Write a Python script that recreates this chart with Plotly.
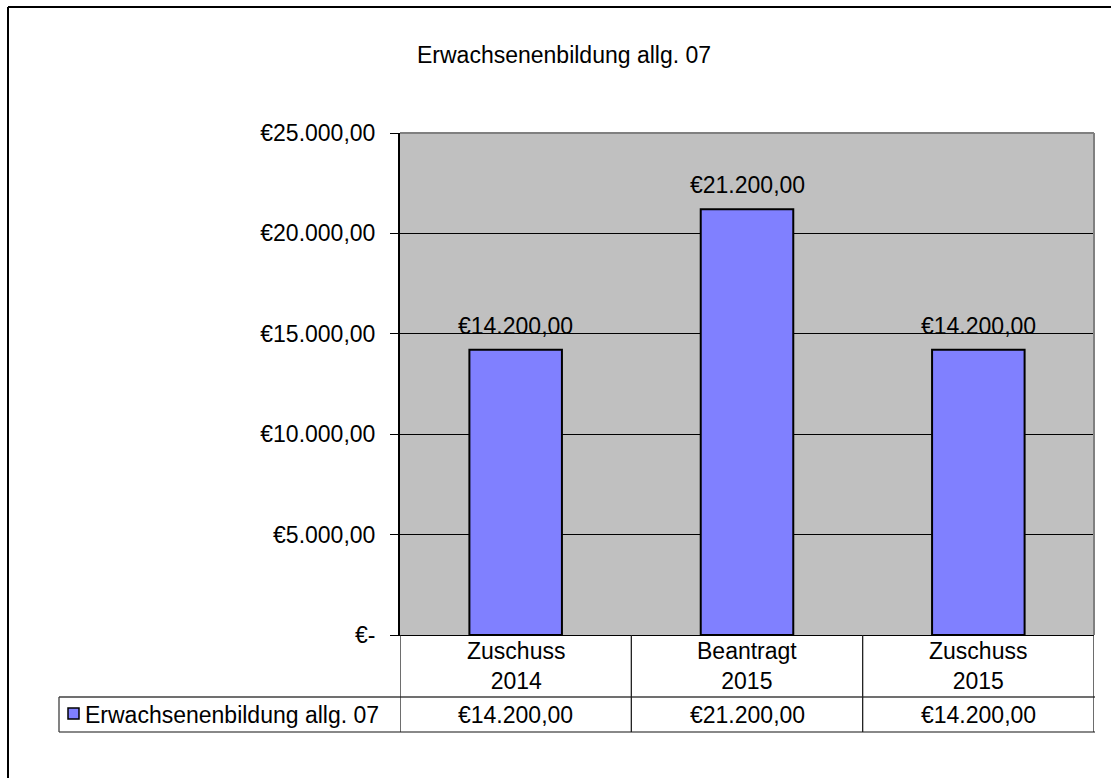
import plotly.graph_objects as go

# ---------------- data ----------------
title_text = "Erwachsenenbildung allg. 07"
series_name = "Erwachsenenbildung allg. 07"
categories = ["Zuschuss<br>2014", "Beantragt<br>2015", "Zuschuss<br>2015"]
values = [14200, 21200, 14200]
y_tick_values = [0, 5000, 10000, 15000, 20000, 25000]

# ---------------- helpers ----------------
W, H = 1111, 778
FONT = "Liberation Sans, Arial, sans-serif"
FS = 23


def eur(v):
    if v == 0:
        return "€-"
    s = f"{v:,.2f}"
    s = s.replace(",", "X").replace(".", ",").replace("X", ".")
    return "€" + s


def px(x):
    return x / W


def py(y):
    return 1 - y / H


PLOT_L, PLOT_R, PLOT_T, PLOT_B = 400, 1094, 133, 635
ROW1_B, ROW2_B = 697, 732
LEG_L = 59

x_idx = list(range(len(categories)))

fig = go.Figure()
fig.add_trace(go.Bar(
    x=x_idx, y=values, width=0.4, name=series_name,
    marker=dict(color="#8080FF", line=dict(color="#000000", width=2)),
    showlegend=False, hoverinfo="skip",
))

annotations = []
# title
annotations.append(dict(text=title_text, x=px(564), y=py(55), xref="paper", yref="paper",
                        showarrow=False, xanchor="center", yanchor="middle",
                        font=dict(family=FONT, size=FS, color="black")))
# bar value labels
for i, v in zip(x_idx, values):
    annotations.append(dict(text=eur(v), x=i, y=v, xref="x", yref="y", showarrow=False,
                            xanchor="center", yanchor="bottom", yshift=9,
                            font=dict(family=FONT, size=FS, color="black")))
# table: category headers and values
for i, (c, v) in enumerate(zip(categories, values)):
    annotations.append(dict(text=c, x=i, y=py((PLOT_B + ROW1_B) / 2), xref="x", yref="paper",
                            showarrow=False, xanchor="center", yanchor="middle",
                            font=dict(family=FONT, size=FS, color="black")))
    annotations.append(dict(text=eur(v), x=i, y=py((ROW1_B + ROW2_B) / 2), xref="x", yref="paper",
                            showarrow=False, xanchor="center", yanchor="middle",
                            font=dict(family=FONT, size=FS, color="black")))
# legend text in table
annotations.append(dict(text=series_name, x=px(83), y=py((ROW1_B + ROW2_B) / 2), xref="paper", yref="paper",
                        showarrow=False, xanchor="left", yanchor="middle",
                        font=dict(family=FONT, size=FS, color="black")))

shapes = []
# outer chart border (top & left visible)
shapes.append(dict(type="line", xref="paper", yref="paper", x0=px(8), x1=1, y0=py(7), y1=py(7),
                   line=dict(color="black", width=2)))
shapes.append(dict(type="line", xref="paper", yref="paper", x0=px(8), x1=px(8), y0=py(7), y1=0,
                   line=dict(color="black", width=2)))
# plot area top/right border (gray)
shapes.append(dict(type="line", xref="paper", yref="paper", x0=px(PLOT_L), x1=px(PLOT_R), y0=py(PLOT_T), y1=py(PLOT_T),
                   line=dict(color="#808080", width=2)))
shapes.append(dict(type="line", xref="paper", yref="paper", x0=px(PLOT_R), x1=px(PLOT_R), y0=py(PLOT_T), y1=py(PLOT_B),
                   line=dict(color="#808080", width=2)))
# table horizontal lines
for yy in (ROW1_B, ROW2_B):
    shapes.append(dict(type="line", xref="paper", yref="paper", x0=px(LEG_L), x1=px(PLOT_R + 1), y0=py(yy), y1=py(yy),
                       line=dict(color="#404040" if yy == ROW1_B else "#606060", width=1.3)))
# table vertical lines at category boundaries
for b in [i - 0.5 for i in x_idx] + [x_idx[-1] + 0.5]:
    shapes.append(dict(type="line", xref="x", yref="paper", x0=b, x1=b, y0=py(PLOT_B), y1=py(ROW2_B),
                       line=dict(color="#202020", width=1.3)))
# legend cell left edge
shapes.append(dict(type="line", xref="paper", yref="paper", x0=px(LEG_L), x1=px(LEG_L), y0=py(ROW1_B), y1=py(ROW2_B),
                   line=dict(color="#404040", width=1.3)))
# legend key
shapes.append(dict(type="rect", xref="paper", yref="paper", x0=px(68), x1=px(79), y0=py(719), y1=py(708),
                   fillcolor="#8080FF", line=dict(color="black", width=1.5)))

fig.update_layout(
    width=W, height=H, autosize=False,
    margin=dict(l=0, r=0, t=0, b=0, pad=0, autoexpand=False),
    paper_bgcolor="white",
    plot_bgcolor="#C0C0C0",
    showlegend=False,
    bargap=0.6,
    xaxis=dict(domain=[px(PLOT_L), px(PLOT_R)], range=[-0.5, len(categories) - 0.5],
               showticklabels=False, ticks="", showgrid=False, zeroline=False, automargin=False,
               showline=True, linecolor="black", linewidth=1.3, fixedrange=True),
    yaxis=dict(domain=[py(PLOT_B), py(PLOT_T)], range=[0, 25000], automargin=False,
               tickvals=y_tick_values, ticktext=[eur(v) for v in y_tick_values],
               tickfont=dict(family=FONT, size=FS, color="black"),
               ticks="outside", ticklen=8, tickcolor="black", tickwidth=1.3,
               ticklabelstandoff=10,
               showgrid=True, gridcolor="black", gridwidth=1, zeroline=False,
               showline=True, linecolor="black", linewidth=2, fixedrange=True),
    annotations=annotations,
    shapes=shapes,
)

fig.write_html(
    "out.html",
    config={"displayModeBar": False, "responsive": False},
    post_script="document.body.style.margin='0';document.body.style.padding='0';"
                "document.body.style.overflow='hidden';document.documentElement.style.overflow='hidden';",
)
